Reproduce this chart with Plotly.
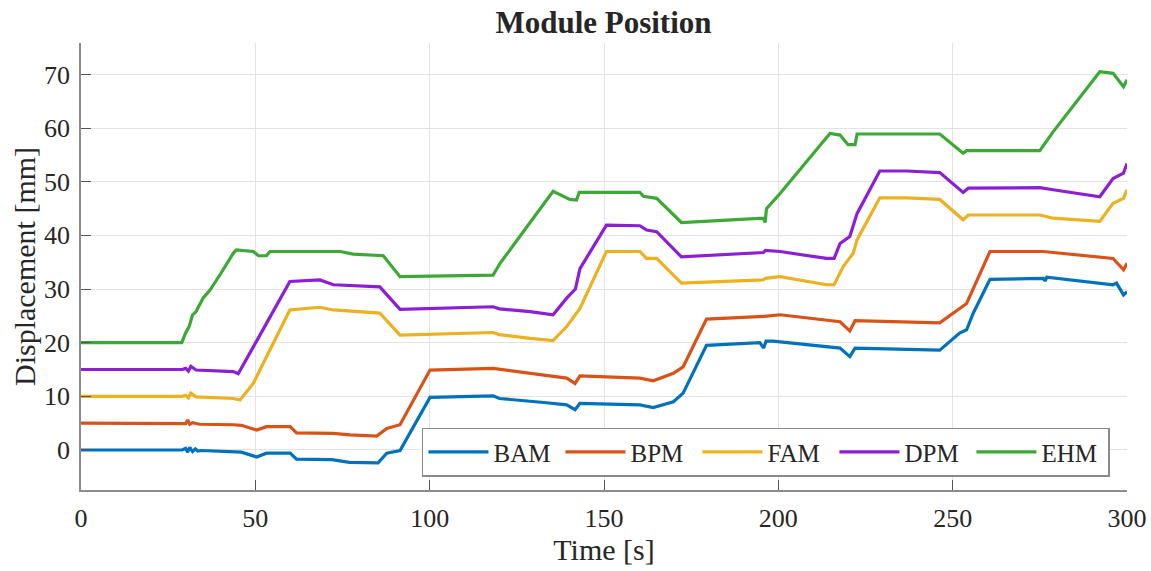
import plotly.graph_objects as go

# ---------------- data ----------------
series_names = ["BAM", "BPM", "FAM", "DPM", "EHM"]
series_colors = ["#0072BD", "#D95319", "#EDB120", "#8B1ED6", "#3CA935"]

bam_t = [0, 29, 30, 30.6, 31.2, 32, 32.8, 33.5, 34.5, 40, 43.7, 46, 50.4, 53.2, 60, 61.8,
         72, 77, 85.2, 87.7, 91.5, 100.1, 118.2, 120, 133.5, 139.3, 141.7, 143.1, 160.3,
         164.1, 169.9, 172.7, 179.4, 194.7, 195.8, 196.5, 198.5, 217.7, 220.5, 222, 246.3,
         252, 254, 255.9, 260.7, 276, 276.5, 277, 296, 297, 299, 300]
bam_v = [0, 0, 0.3, -0.4, 0.5, -0.3, 0.2, -0.2, -0.1, -0.3, -0.3, -0.4, -1.3, -0.6, -0.6, -1.7,
         -1.8, -2.3, -2.4, -0.6, -0.1, 9.8, 10.1, 9.6, 8.8, 8.4, 7.5, 8.7, 8.4,
         7.9, 9.0, 10.6, 19.5, 20.0, 19.0, 20.3, 20.3, 19.0, 17.4, 19.0, 18.6,
         21.8, 22.4, 25.5, 31.8, 32.0, 31.5, 32.2, 30.8, 31.1, 28.9, 29.5]

bpm_t = [0, 29, 30, 30.6, 31.2, 32, 34, 43.7, 46, 50.4, 53.2, 60, 61.8, 72.3, 77.1, 84.8,
         87.7, 91.5, 100.1, 118.2, 133.5, 139.3, 141.7, 143.1, 160.3, 164.1, 169.9, 172.7,
         179.4, 196, 200.5, 217.7, 220.5, 222, 246.3, 252, 254, 260.7, 276, 296, 299, 300]
bpm_v = [5, 5, 4.9, 5.6, 4.8, 5.1, 4.8, 4.7, 4.6, 3.7, 4.35, 4.35, 3.2, 3.1, 2.8, 2.6,
         4.0, 4.7, 14.9, 15.2, 13.8, 13.4, 12.4, 13.8, 13.4, 12.9, 14.3, 15.5,
         24.4, 24.9, 25.2, 23.9, 22.2, 24.1, 23.7, 26.4, 27.3, 37.0, 37.0, 35.7, 33.6, 34.8]

fam_t = [0, 29, 30, 30.8, 31.5, 33, 43.7, 45.6, 49.4, 53.2, 59.9, 68.5, 72.4, 85.7, 91.5,
         118.2, 120, 128.8, 135.4, 139.3, 143.1, 150.7, 160.3, 162.2, 165.1, 172.2, 195.7,
         196.3, 200.5, 213.8, 216, 218.6, 221.5, 222.6, 229.1, 236.8, 246.3, 253, 254.5,
         275, 278.8, 292.2, 296, 299, 300]
fam_v = [10, 10, 10.2, 9.7, 10.6, 9.9, 9.6, 9.3, 12.4, 17.4, 26.1, 26.6, 26.1, 25.5, 21.4,
         21.9, 21.5, 20.8, 20.4, 23.0, 26.4, 37.0, 37.0, 35.7, 35.7, 31.1, 31.7,
         32.0, 32.3, 30.8, 30.8, 34.2, 36.7, 39.2, 47.0, 47.0, 46.7, 42.9, 43.8,
         43.8, 43.2, 42.6, 46.0, 46.9, 48.5]

dpm_t = [0, 29, 30, 30.8, 31.5, 33, 43.7, 45.1, 53.2, 59.9, 68.5, 72.4, 85.7, 91.5, 118.2,
         120, 128.8, 135.4, 139.3, 141.8, 143.1, 150.7, 160.3, 162.2, 165.1, 172.2, 195.7,
         196.3, 200.5, 213.8, 216, 217.7, 220.5, 222.6, 229.1, 236.8, 246.3, 253, 254.5,
         275, 278.8, 292.2, 296, 299, 300]
dpm_v = [15, 15, 15.2, 14.7, 15.6, 14.9, 14.6, 14.2, 23.6, 31.4, 31.7, 30.8, 30.4, 26.2, 26.7,
         26.3, 25.8, 25.2, 28.3, 30.0, 33.8, 41.9, 41.8, 41.0, 40.7, 36.0, 36.8,
         37.2, 37.0, 35.7, 35.7, 38.5, 39.8, 44.1, 52.0, 52.0, 51.7, 48.0, 48.8,
         48.9, 48.5, 47.2, 50.6, 51.6, 53.4]

ehm_t = [0, 28.9, 30, 31, 32, 33, 35, 37, 40, 43.7, 44.6, 49.4, 50.9, 53.2, 54.2, 74.3, 78.1,
         86.7, 91.5, 118.2, 120.2, 135.4, 140.2, 142.1, 142.9, 160.3, 161.3, 165.1, 172.2,
         195.7, 196.2, 196.6, 200.5, 214.8, 217.7, 220, 222, 222.6, 246.3, 253, 254, 275,
         278.8, 292.2, 296, 299, 300]
ehm_v = [20, 20, 21.8, 23.0, 25.2, 25.8, 28.3, 29.8, 32.8, 36.7, 37.3, 37.0, 36.2, 36.2, 37.0,
         37.0, 36.5, 36.2, 32.3, 32.6, 34.8, 48.2, 46.7, 46.6, 48.0, 48.0, 47.3, 46.9, 42.4,
         43.2, 42.4, 45.0, 47.8, 59.0, 58.7, 56.9, 56.9, 58.9, 58.9, 55.3, 55.8, 55.8,
         59.3, 70.5, 70.2, 67.7, 69.0]

x_ticks = [0, 50, 100, 150, 200, 250, 300]
y_ticks = [0, 10, 20, 30, 40, 50, 60, 70]

all_t = [bam_t, bpm_t, fam_t, dpm_t, ehm_t]
all_v = [bam_v, bpm_v, fam_v, dpm_v, ehm_v]

# ---------------- figure ----------------
FONT = "Liberation Serif"
TXT = "#262626"
fig = go.Figure()
for name, color, t, v in zip(series_names, series_colors, all_t, all_v):
    fig.add_trace(go.Scatter(x=t, y=v, mode="lines", name=name,
                             line=dict(color=color, width=3.2)))

fig.update_layout(
    width=1151, height=571,
    margin=dict(l=81, r=24, t=43, b=81),
    paper_bgcolor="white", plot_bgcolor="white",
    font=dict(family=FONT, color=TXT, size=26),
    title=dict(text="<b>Module Position</b>", x=0.5243, xanchor="center",
               y=0.9615, yanchor="middle", yref="container",
               font=dict(family=FONT, size=31, color=TXT)),
    showlegend=True,
    legend=dict(orientation="h", x=0.9837, xanchor="right", y=0.03, yanchor="bottom",
                bgcolor="white", bordercolor="#8a8a8a", borderwidth=1.5,
                font=dict(family=FONT, size=25, color=TXT),
                itemwidth=60, entrywidth=62, tracegroupgap=0),
)
fig.update_xaxes(
    range=[0, 300], tickvals=x_ticks, ticktext=[str(v) for v in x_ticks],
    showgrid=True, gridcolor="#e3e3e3", gridwidth=1,
    showline=True, linecolor="#8c8c8c", linewidth=1.5, mirror=False,
    ticks="inside", ticklen=10, tickcolor="#555555", tickwidth=1,
    zeroline=False, ticklabelstandoff=4, automargin=False,
    tickfont=dict(family=FONT, size=26, color=TXT),
    title=dict(text="Time [s]", font=dict(family=FONT, size=30, color=TXT), standoff=3),
)
fig.update_yaxes(
    range=[-7.46, 75.86], tickvals=y_ticks, ticktext=[str(v) for v in y_ticks],
    showgrid=True, gridcolor="#e3e3e3", gridwidth=1,
    showline=True, linecolor="#8c8c8c", linewidth=1.5, mirror=False,
    ticks="inside", ticklen=10, tickcolor="#555555", tickwidth=1,
    zeroline=False, ticklabelstandoff=4, automargin=False,
    tickfont=dict(family=FONT, size=26, color=TXT),
    title=dict(text="Displacement [mm]", font=dict(family=FONT, size=30, color=TXT), standoff=0),
)

fig.write_html("out.html")
